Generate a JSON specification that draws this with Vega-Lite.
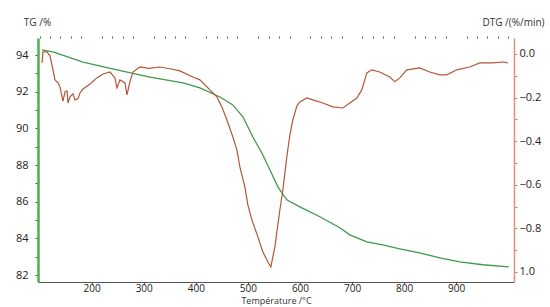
{
  "$schema": "https://vega.github.io/schema/vega-lite/v6.json",
  "width": 476,
  "height": 244,
  "autosize": "none",
  "padding": {"left": 38, "top": 38, "right": 36, "bottom": 25},
  "background": "white",
  "config": {
    "view": {"stroke": null},
    "axis": {"labelFont": "Open Sans", "labelFontSize": 11, "labelColor": "#222", "titleFont": "Open Sans", "titleColor": "#333", "grid": false, "tickColor": "#555", "labelOverlap": false}
  },
  "datasets": {
    "tg": [
      {"T": 104.7, "TG": 94.28}, {"T": 125.8, "TG": 94.17}, {"T": 183.4, "TG": 93.62}, {"T": 248.6, "TG": 93.19},
      {"T": 311.9, "TG": 92.8}, {"T": 375.3, "TG": 92.48}, {"T": 407.9, "TG": 92.21}, {"T": 446.3, "TG": 91.71},
      {"T": 471.2, "TG": 91.28}, {"T": 490.4, "TG": 90.63}, {"T": 509.6, "TG": 89.53}, {"T": 526.9, "TG": 88.66},
      {"T": 542.2, "TG": 87.74}, {"T": 557.6, "TG": 86.81}, {"T": 574.8, "TG": 86.1}, {"T": 599.8, "TG": 85.72},
      {"T": 638.2, "TG": 85.18}, {"T": 676.5, "TG": 84.58}, {"T": 695.7, "TG": 84.19}, {"T": 728.4, "TG": 83.81},
      {"T": 759.1, "TG": 83.65}, {"T": 791.7, "TG": 83.43}, {"T": 830.1, "TG": 83.21}, {"T": 868.4, "TG": 82.94},
      {"T": 906.8, "TG": 82.72}, {"T": 950.9, "TG": 82.56}, {"T": 1000.8, "TG": 82.45}
    ],
    "dtg": [
      {"T": 104.7, "DTG": -0.041}, {"T": 106.6, "DTG": 0.009}, {"T": 114.3, "DTG": 0.009}, {"T": 120.0, "DTG": -0.009},
      {"T": 125.8, "DTG": -0.073}, {"T": 129.6, "DTG": -0.119}, {"T": 135.4, "DTG": -0.133}, {"T": 139.2, "DTG": -0.151},
      {"T": 145.0, "DTG": -0.216}, {"T": 148.8, "DTG": -0.174}, {"T": 152.7, "DTG": -0.17}, {"T": 154.6, "DTG": -0.225},
      {"T": 158.4, "DTG": -0.197}, {"T": 164.2, "DTG": -0.183}, {"T": 168.0, "DTG": -0.211}, {"T": 173.8, "DTG": -0.206},
      {"T": 177.6, "DTG": -0.179}, {"T": 183.4, "DTG": -0.161}, {"T": 196.8, "DTG": -0.138}, {"T": 210.2, "DTG": -0.11},
      {"T": 221.7, "DTG": -0.092}, {"T": 235.2, "DTG": -0.083}, {"T": 244.8, "DTG": -0.11}, {"T": 248.6, "DTG": -0.156},
      {"T": 254.4, "DTG": -0.119}, {"T": 264.0, "DTG": -0.133}, {"T": 267.8, "DTG": -0.188}, {"T": 273.5, "DTG": -0.128},
      {"T": 279.3, "DTG": -0.083}, {"T": 292.7, "DTG": -0.06}, {"T": 310.0, "DTG": -0.066}, {"T": 331.1, "DTG": -0.06},
      {"T": 350.0, "DTG": -0.068}, {"T": 369.5, "DTG": -0.078}, {"T": 394.4, "DTG": -0.106}, {"T": 407.9, "DTG": -0.119},
      {"T": 427.1, "DTG": -0.165}, {"T": 440.5, "DTG": -0.197}, {"T": 450.1, "DTG": -0.243}, {"T": 459.7, "DTG": -0.303},
      {"T": 471.2, "DTG": -0.381}, {"T": 478.9, "DTG": -0.44}, {"T": 484.6, "DTG": -0.518}, {"T": 494.2, "DTG": -0.61},
      {"T": 500.0, "DTG": -0.693}, {"T": 507.7, "DTG": -0.761}, {"T": 519.2, "DTG": -0.839}, {"T": 528.8, "DTG": -0.908},
      {"T": 538.4, "DTG": -0.954}, {"T": 544.1, "DTG": -0.977}, {"T": 551.8, "DTG": -0.885}, {"T": 561.4, "DTG": -0.716},
      {"T": 567.2, "DTG": -0.624}, {"T": 574.8, "DTG": -0.472}, {"T": 580.6, "DTG": -0.372}, {"T": 586.3, "DTG": -0.303},
      {"T": 594.0, "DTG": -0.239}, {"T": 599.8, "DTG": -0.22}, {"T": 613.2, "DTG": -0.202}, {"T": 624.7, "DTG": -0.211},
      {"T": 643.9, "DTG": -0.225}, {"T": 663.1, "DTG": -0.243}, {"T": 682.3, "DTG": -0.248}, {"T": 695.7, "DTG": -0.225},
      {"T": 709.2, "DTG": -0.202}, {"T": 718.8, "DTG": -0.165}, {"T": 728.4, "DTG": -0.087}, {"T": 738.0, "DTG": -0.073},
      {"T": 753.3, "DTG": -0.083}, {"T": 772.5, "DTG": -0.106}, {"T": 782.1, "DTG": -0.128}, {"T": 791.7, "DTG": -0.11},
      {"T": 805.1, "DTG": -0.073}, {"T": 830.1, "DTG": -0.064}, {"T": 849.2, "DTG": -0.083}, {"T": 868.4, "DTG": -0.096},
      {"T": 881.9, "DTG": -0.096}, {"T": 901.1, "DTG": -0.073}, {"T": 926.0, "DTG": -0.06}, {"T": 945.2, "DTG": -0.041},
      {"T": 970.1, "DTG": -0.041}, {"T": 989.3, "DTG": -0.037}, {"T": 998.9, "DTG": -0.041}
    ]
  },
  "layer": [
    {
      "data": {"name": "tg"},
      "mark": {"type": "line", "color": "#3f9a4c", "strokeWidth": 1.3},
      "encoding": {
        "x": {
          "field": "T", "type": "quantitative",
          "scale": {"domain": [97, 1011], "nice": false, "zero": false},
          "axis": {
            "title": "Température /°C", "titleFontSize": 9, "titleFontWeight": "normal",
            "titleY": 21, "titleBaseline": "alphabetic",
            "values": [200, 300, 400, 500, 600, 700, 800, 900],
            "labelOverlap": false,
            "tickSize": 2, "labelPadding": -1, "labelFontSize": 10, "domainColor": "#555", "labelFlush": false
          }
        },
        "y": {
          "field": "TG", "type": "quantitative",
          "scale": {"domain": [81.62, 94.93], "nice": false, "zero": false},
          "axis": {
            "title": "TG /%", "titleAngle": 0, "titleX": -1, "titleY": -13, "titleAlign": "center",
            "titleBaseline": "alphabetic", "titleFontSize": 10, "titleFontWeight": "normal",
            "values": [82,83,84,85,86,87,88,89,90,91,92,93,94],
            "labelExpr": "datum.value % 2 == 0 ? datum.label : ''",
            "labelOverlap": false,
            "tickSize": 3, "labelPadding": 7, "domainColor": "#4caf50", "domainWidth": 2.5
          }
        }
      }
    },
    {
      "data": {"name": "dtg"},
      "mark": {"type": "line", "color": "#b5553a", "strokeWidth": 1.2},
      "encoding": {
        "x": {
          "field": "T", "type": "quantitative",
          "axis": {
            "title": null, "labels": false, "domain": false, "tickSize": 2,
            "values": [100,120,140,160,180,220,240,260,280,320,340,360,380,420,440,460,480,520,540,560,580,620,640,660,680,720,740,760,780,820,840,860,880,920,940,960,980,1000]
          }
        },
        "y": {
          "field": "DTG", "type": "quantitative",
          "scale": {"domain": [-1.046, 0.073], "nice": false, "zero": false},
          "axis": {
            "orient": "right",
            "title": "DTG /(%/min)", "titleAngle": 0, "titleX": -1, "titleY": -13, "titleAlign": "center",
            "titleBaseline": "alphabetic", "titleFontSize": 10, "titleFontWeight": "normal",
            "values": [-1, -0.9, -0.8, -0.7, -0.6, -0.5, -0.4, -0.3, -0.2, -0.1, 0],
            "format": ".1f",
            "labelExpr": "round(datum.value * 10) % 2 == 0 ? (datum.value < -0.95 ? '1.0' : datum.label) : ''",
            "labelOverlap": false,
            "tickSize": 3, "labelPadding": 2, "domainColor": "#e0907a", "domainWidth": 1.5, "tickColor": "#c9806c"
          }
        }
      }
    }
  ],
  "resolve": {"scale": {"y": "independent"}, "axis": {"x": "independent"}}
}
